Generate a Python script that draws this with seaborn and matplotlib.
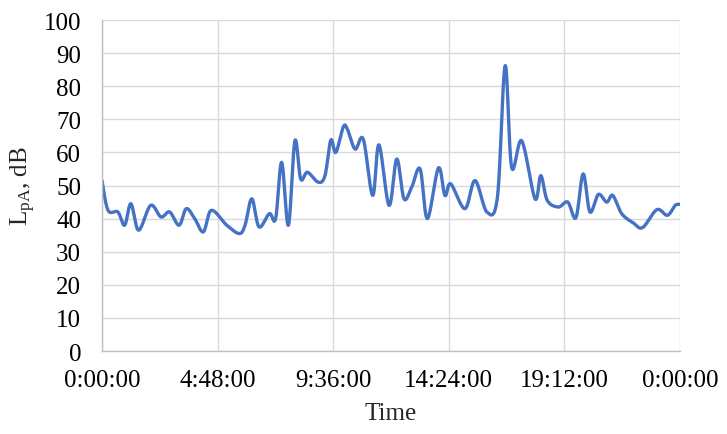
import numpy as np
import pandas as pd
import matplotlib
matplotlib.use("Agg")
import matplotlib.pyplot as plt
import seaborn as sns

# Data (time of day in hours, L_pA in dB)
hours = [0.00, 0.25, 0.66, 0.94, 1.20, 1.52, 2.02, 2.45, 2.81, 3.20, 3.50, 3.85,
         4.21, 4.54, 5.18, 5.70, 5.94, 6.22, 6.52, 6.95, 7.21, 7.46, 7.74, 8.01,
         8.25, 8.53, 8.98, 9.26, 9.50, 9.71, 10.02, 10.19, 10.51, 10.85, 11.24,
         11.50, 11.92, 12.24, 12.54, 12.86, 13.21, 13.51, 13.97, 14.24, 14.48,
         15.07, 15.49, 15.98, 16.42, 16.74, 17.01, 17.43, 17.98, 18.22, 18.49,
         18.95, 19.34, 19.68, 19.98, 20.26, 20.61, 20.96, 21.21, 21.58, 22.06,
         22.45, 23.04, 23.48, 23.80, 24.00]
lpa = [51.5, 42.5, 42.0, 38.0, 44.5, 36.5, 44.0, 40.5, 42.0, 38.0, 43.0, 40.0,
       36.0, 42.5, 38.0, 35.5, 38.0, 46.0, 37.5, 41.5, 40.0, 57.0, 38.0, 63.5,
       52.0, 54.0, 51.0, 53.0, 63.7, 60.0, 67.7, 67.0, 61.0, 64.0, 47.0,
       62.3, 44.0, 58.0, 46.0, 49.5, 55.0, 40.0, 55.3, 47.0, 50.5,
       43.0, 51.5, 42.0, 46.5, 86.2, 55.5, 63.5, 46.0, 53.0, 45.5,
       43.5, 45.0, 40.3, 53.5, 42.0, 47.3, 45.0, 47.0, 41.5, 38.7,
       37.3, 42.7, 41.0, 44.0, 44.3]
xtick_pos = [0, 4.8, 9.6, 14.4, 19.2, 24]
xtick_labels = ["0:00:00", "4:48:00", "9:36:00", "14:24:00", "19:12:00", "0:00:00"]
yticks = list(range(0, 101, 10))


def smooth(xs, ys, n=20):
    """Excel-like smoothed line (Catmull-Rom Bezier through every point)."""
    P = np.column_stack([xs, ys]).astype(float)
    P = np.vstack([P[0], P, P[-1]])
    out = []
    t = np.linspace(0, 1, n, endpoint=False)
    for i in range(1, len(P) - 2):
        p0, p1, p2, p3 = P[i - 1], P[i], P[i + 1], P[i + 2]
        c1 = p1 + (p2 - p0) / 6.0
        c2 = p2 - (p3 - p1) / 6.0
        tt = t[:, None]
        seg = ((1 - tt) ** 3) * p1 + 3 * ((1 - tt) ** 2) * tt * c1 + \
              3 * (1 - tt) * tt ** 2 * c2 + tt ** 3 * p2
        out.append(seg)
    out.append(P[-2][None, :])
    S = np.vstack(out)
    return S[:, 0], S[:, 1]


sx, sy = smooth(hours, lpa)
df = pd.DataFrame({"Time": sx, "LpA": sy})

sns.set_theme(style="white")
plt.rcParams["font.family"] = ["Liberation Serif", "DejaVu Serif"]
plt.rcParams["mathtext.fontset"] = "custom"
plt.rcParams["mathtext.rm"] = "Liberation Serif"
plt.rcParams["mathtext.it"] = "Liberation Serif:italic"

fig = plt.figure(figsize=(7.27, 4.35), dpi=100)
ax = fig.add_axes([0.1403, 0.1908, 0.795, 0.7609])

sns.lineplot(data=df, x="Time", y="LpA", sort=False, estimator=None,
             color="#4472C4", linewidth=2.4, ax=ax)

ax.set_xlim(0, 24)
ax.set_ylim(0, 100)
ax.set_xticks(xtick_pos)
ax.set_xticklabels(xtick_labels)
ax.set_yticks(yticks)
ax.grid(True, color="#d9d9d9", linewidth=1.0)
ax.set_axisbelow(True)
for s in ["top", "right"]:
    ax.spines[s].set_visible(False)
for s in ["left", "bottom"]:
    ax.spines[s].set_color("#bfbfbf")
    ax.spines[s].set_linewidth(1.0)
ax.tick_params(axis="both", length=0, labelsize=18, colors="black")
ax.tick_params(axis="y", pad=15)
ax.tick_params(axis="x", pad=13)
ax.set_xlabel("Time", fontsize=18, labelpad=8)
ax.set_ylabel(r"L$_{\mathrm{pA}}$, dB", fontsize=18, labelpad=4)

fig.savefig("out.png", dpi=100)
